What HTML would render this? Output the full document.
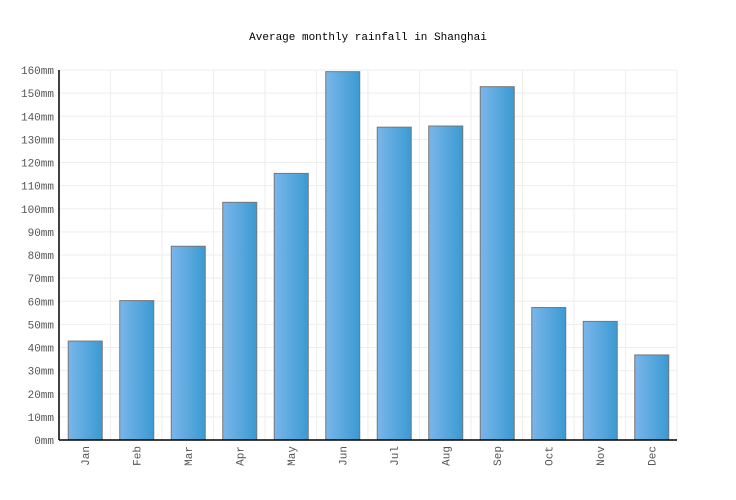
<!DOCTYPE html>
<html><head><meta charset="utf-8"><style>
body{margin:0;background:#fff;}
svg{display:block;font-family:"Liberation Mono","DejaVu Sans Mono",monospace;}
</style></head><body>
<svg id="c" width="736" height="500">
<defs><linearGradient id="g" x1="0" x2="1" y1="0" y2="0"><stop offset="0" stop-color="#7ab6ea"/><stop offset="1" stop-color="#3a9ad2"/></linearGradient></defs>
<text x="368" y="40" text-anchor="middle" font-size="11" fill="#000">Average monthly rainfall in Shanghai</text>
<g id="grid"></g><g id="bars"></g><g id="axes"></g>
</svg>
<script>
const categories=["Jan","Feb","Mar","Apr","May","Jun","Jul","Aug","Sep","Oct","Nov","Dec"];
const rainfall=[43,60.5,84,103,115.5,159.5,135.5,136,153,57.5,51.5,37];
const yTicks=[0,10,20,30,40,50,60,70,80,90,100,110,120,130,140,150,160];
const L=59,R=677,T=70,B=440,yMax=160;
const ns="http://www.w3.org/2000/svg";
const y=v=>B-(v/yMax)*(B-T);
const step=(R-L)/categories.length;
const x=i=>L+i*step;
function mk(p,t,a){const e=document.createElementNS(ns,t);for(const k in a)e.setAttribute(k,a[k]);p.appendChild(e);return e;}
const grid=document.getElementById('grid'),bars=document.getElementById('bars'),axes=document.getElementById('axes');
yTicks.forEach(t=>{
 const l=mk(grid,'line',{x1:L,x2:R,y1:y(t),y2:y(t),stroke:'#eeeeee'});
 
 
 const tx=mk(axes,'text',{x:L-5,y:y(t)+4,'text-anchor':'end','font-size':'11',fill:'#555'});
 tx.textContent=t+'mm';
 
 
});
for(let i=1;i<=categories.length;i++){
 const l=mk(grid,'line',{x1:x(i),x2:x(i),y1:T,y2:B,stroke:'#eeeeee'});
 
 
}
categories.forEach((c,i)=>{
 const bw=34,cx=x(i)+step/2;
 const r=mk(bars,'rect',{x:cx-bw/2+0.5,y:y(rainfall[i])+0.5,width:bw,height:B-y(rainfall[i])-0.5,fill:'url(#g)',stroke:'#777','stroke-width':1});
 
 
 const tx=mk(axes,'text',{x:0,y:0,transform:`translate(${cx+4},${B+6}) rotate(-90)`,'text-anchor':'end','font-size':'11',fill:'#555'});
 tx.textContent=c;
 
 
});
const ya=mk(axes,'line',{x1:L,x2:L,y1:T,y2:B,stroke:'#000','stroke-width':1.5});


const xa=mk(axes,'line',{x1:L,x2:R,y1:B,y2:B,stroke:'#000','stroke-width':1.5});


</script>
</body></html>
